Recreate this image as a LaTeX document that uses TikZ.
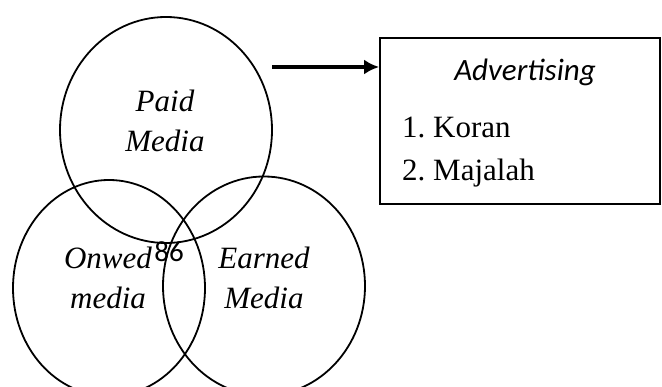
\documentclass[tikz,border=0pt]{standalone}
\usepackage{fontspec}
\setmainfont{Liberation Serif}
\newfontfamily\calibrifont{Carlito}
\usetikzlibrary{arrows.meta,shapes.geometric}
\frenchspacing

\begin{document}
\begin{tikzpicture}[x=1pt, y=-1pt, line width=1.8pt,
  every node/.style={font=\fontsize{31}{40}\selectfont},
  ring/.style={draw, ellipse, inner sep=0pt},
  ringtext/.style={align=center, font=\fontsize{31}{40}\selectfont\itshape},
  >={Latex[length=15pt, width=15pt]}]
	\useasboundingbox (0,0) rectangle (662,387);
	\clip (0,0) rectangle (662,387);
	% three circles
	\node[ring, minimum width=212, minimum height=226] (paid) at (166,130) {};
	\node[ring, minimum width=192, minimum height=216] (owned) at (109,288) {};
	\node[ring, minimum width=202, minimum height=219] (earned) at (264,286) {};
	\node[ringtext] (paidtext) at (165,121) {Paid\\ Media};
	\node[ringtext] (ownedtext) at (108,278) {Onwed\\ media};
	\node[ringtext] (earnedtext) at (264,278) {Earned\\ Media};
	\node[font=\fontsize{29}{30}\selectfont\calibrifont] (pagenum) at (169,252) {86};
	% box on the right
	\node[draw, minimum width=280, minimum height=166, inner sep=0pt] (adbox) at (520,121) {};
	\node[font=\fontsize{31}{40}\selectfont\calibrifont\itshape] (adtitle) at (525,72) {Advertising};
	\node[anchor=west, align=left, font=\fontsize{31}{43}\selectfont] (adlist) at (398,152) {1. Koran\\ 2. Majalah};
	\coordinate (arrowtail) at (272,67);
	\draw[->, line width=3.5pt] (arrowtail) -- (arrowtail -| adbox.west);
\end{tikzpicture}
\end{document}
